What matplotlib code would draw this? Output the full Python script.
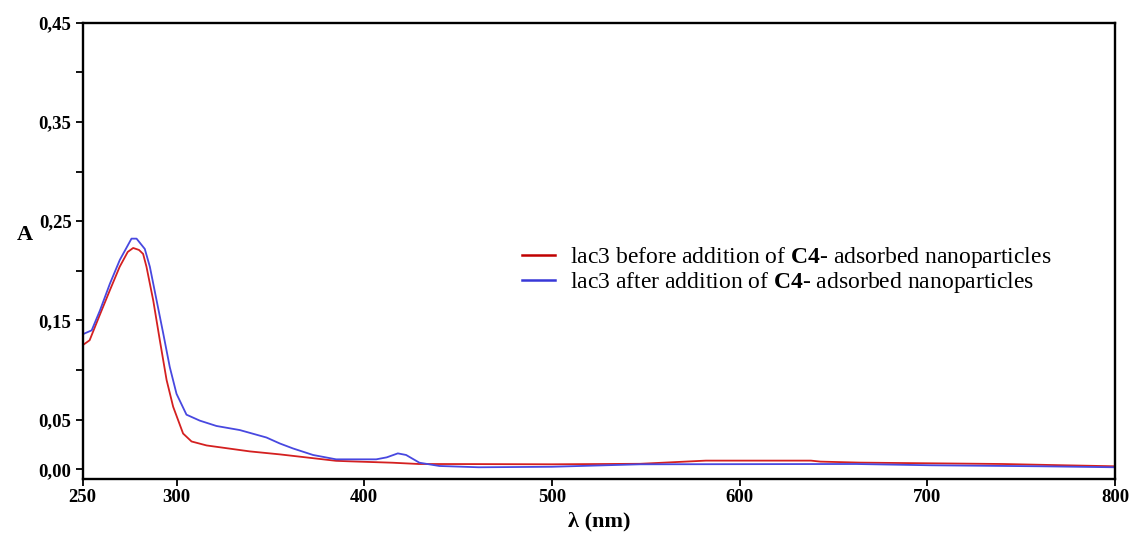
import matplotlib
matplotlib.use("Agg")
import matplotlib.pyplot as plt
from matplotlib.ticker import FixedLocator, FuncFormatter

plt.rcParams["font.family"] = ["Liberation Serif", "DejaVu Serif"]
plt.rcParams["mathtext.fontset"] = "custom"
plt.rcParams["mathtext.rm"] = "Liberation Serif"
plt.rcParams["mathtext.bf"] = "Liberation Serif:bold"

# Absorbance spectra of lac3 (wavelength in nm, absorbance A)
wl_before = [250, 253.7, 259, 264.4, 269.7, 274, 276.9, 280, 282.2, 284, 287.6,
             291.1, 294.7, 298.2, 303.5, 308, 316, 339, 355, 365.6, 385, 392,
             415, 429, 461, 500, 547, 582, 638, 643, 664, 685, 740, 773, 800]
abs_before = [0.125, 0.130, 0.155, 0.180, 0.204, 0.219, 0.223, 0.221, 0.217, 0.204, 0.170,
              0.130, 0.090, 0.063, 0.036, 0.028, 0.024, 0.018, 0.015, 0.0127, 0.0085, 0.0080,
              0.0066, 0.0053, 0.0052, 0.0050, 0.0055, 0.0087, 0.0087, 0.0077, 0.0067, 0.0063,
              0.0053, 0.0040, 0.0030]

wl_after = [250, 254.8, 259.2, 264.5, 269.8, 276, 278.7, 283.1, 285.8, 289.4, 292.9,
            296.4, 300, 305.3, 312.4, 321.3, 333.7, 347.9, 355, 362, 372.7, 385, 392,
            406.4, 412, 417.9, 422.3, 429.4, 440, 461, 500, 547, 662, 702, 760, 800]
abs_after = [0.136, 0.140, 0.160, 0.187, 0.211, 0.2324, 0.2324, 0.222, 0.204, 0.170, 0.137,
             0.103, 0.076, 0.055, 0.049, 0.0436, 0.0395, 0.032, 0.026, 0.021, 0.0144, 0.010, 0.010,
             0.010, 0.012, 0.016, 0.0144, 0.0066, 0.0033, 0.0020, 0.0025, 0.0050, 0.0053, 0.0040,
             0.0030, 0.0020]

label_before = r"lac3 before addition of $\mathbf{C4}$- adsorbed nanoparticles"
label_after = r"lac3 after addition of $\mathbf{C4}$- adsorbed nanoparticles"

x_ticks = [250, 300, 400, 500, 600, 700, 800]
y_ticks = [0.0, 0.05, 0.10, 0.15, 0.20, 0.25, 0.30, 0.35, 0.40, 0.45]
y_labeled = [0.0, 0.05, 0.15, 0.25, 0.35, 0.45]

fig = plt.figure(figsize=(11.31, 5.38), dpi=100)
ax = fig.add_axes([0.0731, 0.1097, 0.9128, 0.8481])

ax.plot(wl_before, abs_before, color="#d42020", lw=1.3, label=label_before)
ax.plot(wl_after, abs_after, color="#4848e0", lw=1.3, label=label_after)

ax.set_xlim(250, 800)
ax.set_ylim(-0.0098, 0.45)

ax.xaxis.set_major_locator(FixedLocator(x_ticks))
ax.yaxis.set_major_locator(FixedLocator(y_ticks))


def y_fmt(v, pos):
    for t in y_labeled:
        if abs(v - t) < 1e-9:
            return f"{v:.2f}".replace(".", ",")
    return ""


ax.yaxis.set_major_formatter(FuncFormatter(y_fmt))
ax.xaxis.set_major_formatter(FuncFormatter(lambda v, p: f"{int(round(v))}"))

for lbl in ax.get_xticklabels() + ax.get_yticklabels():
    lbl.set_fontweight("bold")
ax.tick_params(axis="both", direction="out", length=5, width=1.3,
               labelsize=13.5, color="black")
ax.tick_params(axis="x", pad=2)
ax.tick_params(axis="y", pad=3)

for side in ["left", "bottom", "top", "right"]:
    ax.spines[side].set_linewidth(1.7)
    ax.spines[side].set_color("black")

ax.set_xlabel("λ (nm)", fontsize=16, fontweight="bold", labelpad=4)
ax.text(-0.056, 0.535, "A", transform=ax.transAxes, fontsize=16,
        fontweight="bold", ha="center", va="center")

leg = ax.legend(loc="center left", bbox_to_anchor=(0.4256, 0.458),
                frameon=False, fontsize=17, handlelength=1.4,
                handletextpad=0.62, labelspacing=0.0, borderpad=0,
                borderaxespad=0)
leg.get_lines()[0].set_color("#c00000")
leg.get_lines()[1].set_color("#3838d8")
for ln in leg.get_lines():
    ln.set_linewidth(1.8)

fig.savefig("out.png", dpi=100)
